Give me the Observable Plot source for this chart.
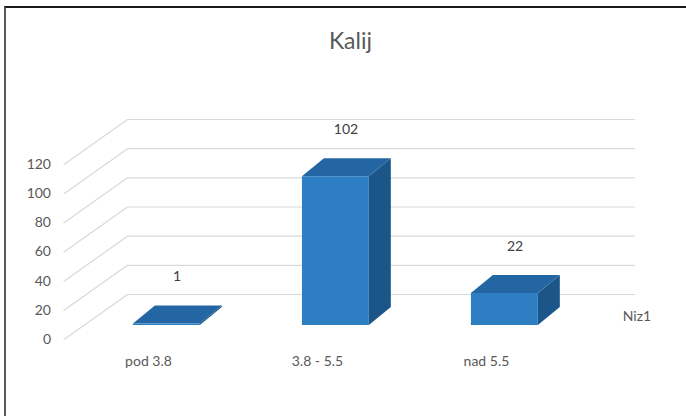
<!DOCTYPE html>
<html>
<head>
<meta charset="utf-8">
<script src="https://cdn.jsdelivr.net/npm/d3@7"></script>
<script src="https://cdn.jsdelivr.net/npm/@observablehq/plot@0.6"></script>
<style>
  html, body { margin: 0; padding: 0; background: #fff; }
  #chart { position: relative; width: 686px; height: 416px; overflow: hidden; font-family: Lato, "Open Sans", sans-serif; }
  #frame { position: absolute; left: 4px; top: 6px; right: -4px; bottom: -4px;
           border-top: 2px solid #1a1a1a; border-left: 2px solid #5a5a5a; }
  #title { position: absolute; left: 250px; width: 201px; top: 29px; text-align: center;
           font-size: 23px; line-height: 23px; color: #595959; }
  #plot { position: absolute; left: 0; top: 0; }
</style>
</head>
<body>
<div id="chart">
  <div id="frame"></div>
  <div id="title">Kalij</div>
  <div id="plot"></div>
</div>
<script>
// Potassium (Kalij) result counts per range
const categories = ["pod 3.8", "3.8 - 5.5", "nad 5.5"];
const values = [1, 102, 22];
const yTicks = [0, 20, 40, 60, 80, 100, 120];
const seriesName = "Niz1";

// 3-D projection, expressed in scale units:
// DX/DY = depth of the back wall, FX/FY = offset of the bar fronts,
// BX/BY = depth of a bar, HW = half the width of a bar's front face
const DX = 0.376, DY = 30.86;
const FX = 0.109, FY = 9.6;
const BX = 0.13, BY = 12.3;
const HW = 0.198;

const FRONT = "#2e7ec3", TOP = "#2466a3", SIDE = "#1c5588";

const bars = categories.map((c, i) => ({i, c, v: values[i]}));

// back wall: diagonal from the front edge, then along the wall
const grid = yTicks.flatMap(t => [
  {t, x: -0.5, y: t},
  {t, x: -0.5 + DX, y: t + DY},
  {t, x: 2.5 + DX, y: t + DY}
]);

const tops = bars.flatMap(d => [
  {i: d.i, y: d.v + FY, x1: d.i + FX - HW, x2: d.i + FX + HW},
  {i: d.i, y: d.v + FY + BY, x1: d.i + FX - HW + BX, x2: d.i + FX + HW + BX}
]);

const sides = bars.flatMap(d => [
  {i: d.i, x: d.i + FX + HW, y1: FY, y2: d.v + FY},
  {i: d.i, x: d.i + FX + HW + BX, y1: FY + BY, y2: d.v + FY + BY}
]);

const plot = Plot.plot({
  width: 686,
  height: 416,
  marginLeft: 63.5,
  marginRight: 52,
  marginTop: 119,
  marginBottom: 77,
  style: {background: "transparent", color: "#595959", fontFamily: "Lato, 'Open Sans', sans-serif", fontSize: "14px"},
  x: {type: "linear", domain: [-0.5, 2.5 + DX]},
  y: {type: "linear", domain: [0, 120 + DY]},
  marks: [
    Plot.line(grid, {x: "x", y: "y", z: "t", stroke: "#d9d9d9", strokeWidth: 1.2}),
    Plot.axisY(yTicks, {anchor: "left", tickSize: 0, tickPadding: 13, label: null, fontSize: 14}),
    Plot.axisX([0, 1, 2], {anchor: "bottom", tickSize: 0, tickPadding: 17, label: null,
                           tickFormat: i => categories[i], fontSize: 14}),
    Plot.areaY(sides, {x: "x", y1: "y1", y2: "y2", z: "i", fill: SIDE}),
    Plot.areaX(tops, {y: "y", x1: "x1", x2: "x2", z: "i", fill: TOP}),
    Plot.rect(bars, {x1: d => d.i + FX - HW, x2: d => d.i + FX + HW,
                     y1: () => FY, y2: d => d.v + FY, fill: FRONT}),
    Plot.text(bars, {x: d => d.i + FX + 0.06, y: d => d.v + 42, text: d => String(d.v),
                     fill: "#404040", fontSize: 14}),
    Plot.text([seriesName], {x: () => 2.5 + DX / 2, y: () => DY / 2, text: d => d,
                             textAnchor: "start", dx: 20, fill: "#595959", fontSize: 14})
  ]
});
document.getElementById("plot").appendChild(plot);
</script>
</body>
</html>
